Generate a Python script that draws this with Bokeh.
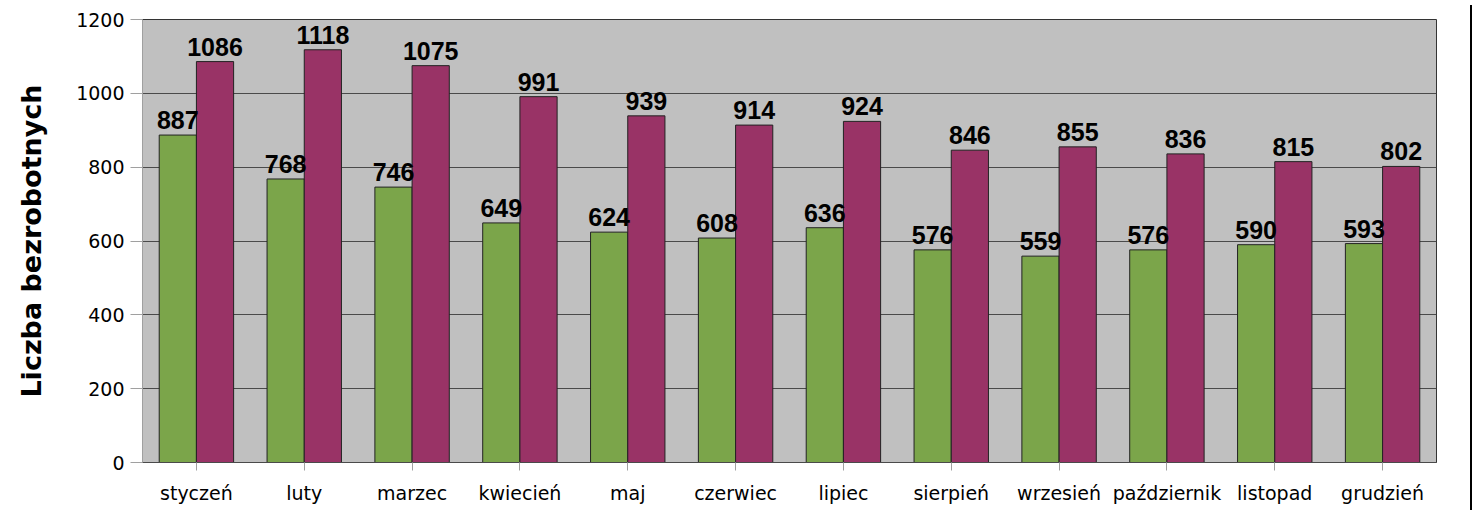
from bokeh.plotting import figure
from bokeh.models import ColumnDataSource, FactorRange, FixedTicker, Range1d, Div
from bokeh.transform import dodge
from bokeh.core.properties import value
from bokeh.layouts import row
from bokeh.embed import file_html
from bokeh.resources import INLINE

months = ["styczeń", "luty", "marzec", "kwiecień", "maj", "czerwiec", "lipiec",
          "sierpień", "wrzesień", "październik", "listopad", "grudzień"]
series_a = [887, 768, 746, 649, 624, 608, 636, 576, 559, 576, 590, 593]
series_b = [1086, 1118, 1075, 991, 939, 914, 924, 846, 855, 836, 815, 802]
y_ticks = [0, 200, 400, 600, 800, 1000, 1200]

src = ColumnDataSource(dict(m=months, a=series_a, b=series_b,
                            la=[str(v) for v in series_a], lb=[str(v) for v in series_b]))

p = figure(x_range=FactorRange(*months), y_range=Range1d(0, 1200),
           width=1465, height=506, output_backend="svg", toolbar_location=None,
           min_border_left=142, min_border_top=19, min_border_right=29, min_border_bottom=44)
p.background_fill_color = "#c0c0c0"
p.border_fill_color = "white"
p.outline_line_color = "#333333"

bw = 0.345
off = 0.1725
p.vbar(x=dodge("m", -off, range=p.x_range), top="a", width=bw, bottom=0, source=src,
       fill_color="#7ba54a", line_color="#222222", line_width=1)
p.vbar(x=dodge("m", off, range=p.x_range), top="b", width=bw, bottom=0, source=src,
       fill_color="#993366", line_color="#222222", line_width=1)

common = dict(text_align="center", text_baseline="bottom", text_font=value("Liberation Sans"),
              text_font_style="bold", text_font_size="25px", text_color="black", y_offset=-6)
p.text(x=dodge("m", -off, range=p.x_range), y="a", text="la", source=src, **common)
p.text(x=dodge("m", off, range=p.x_range), y="b", text="lb", source=src, **common)

p.xgrid.grid_line_color = None
p.ygrid.grid_line_color = "#4a4a4a"
p.ygrid.ticker = FixedTicker(ticks=y_ticks)

p.yaxis.ticker = FixedTicker(ticks=y_ticks)
p.yaxis.minor_tick_line_color = None
p.yaxis.major_tick_in = 0
p.yaxis.major_tick_out = 12
p.yaxis.major_tick_line_color = "#a0a0a0"
p.yaxis.axis_line_color = "#a0a0a0"
p.yaxis.major_label_text_font = "DejaVu Sans"
p.yaxis.major_label_text_font_size = "19px"
p.yaxis.major_label_text_color = "black"
p.yaxis.major_label_standoff = 6
p.yaxis.axis_label = "Liczba bezrobotnych"
p.yaxis.axis_label_text_font = "DejaVu Sans"
p.yaxis.axis_label_text_font_style = "bold"
p.yaxis.axis_label_text_font_size = "27px"
p.yaxis.axis_label_text_color = "black"
p.yaxis.axis_label_standoff = 26

p.xaxis.major_tick_in = 0
p.xaxis.major_tick_out = 8
p.xaxis.major_tick_line_color = "#a0a0a0"
p.xaxis.axis_line_color = "#4a4a4a"
p.xaxis.major_label_text_font = "DejaVu Sans"
p.xaxis.major_label_text_font_size = "19px"
p.xaxis.major_label_text_color = "black"
p.xaxis.major_label_standoff = 11

edge = Div(width=2, height=505, styles={"border-left": "2px solid black"})
layout = row(p, edge)

open("out.html", "w").write(file_html(layout, INLINE))
